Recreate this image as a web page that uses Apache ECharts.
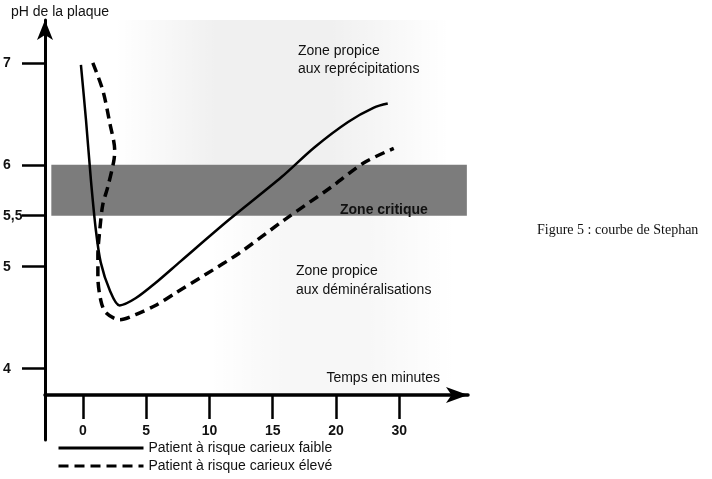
<!DOCTYPE html>
<html><head><meta charset="utf-8">
<script src="https://cdn.jsdelivr.net/npm/echarts@6/dist/echarts.min.js"></script>
<style>html,body{margin:0;padding:0;background:#fff}#c{width:712px;height:479px}</style>
</head><body><div id="c"></div>
<script>
// Time axis ticks (minutes) and their labels — the drawn axis spaces them evenly
const tickMinutes = [0, 5, 10, 15, 20, 30];
const tickLabels = ['0', '5', '10', '15', '20', '30'];
// pH ticks
const phTicks = [4, 5, 5.5, 6, 7];
// Critical zone (pH range)
const criticalZone = [5.5, 6];
// Low caries-risk patient (solid)
const lowRiskMin = [-0.16, 0.24, 0.63, 1.02, 1.41, 2.12, 2.90, 4.16, 5.73, 7.69, 11.54, 15.70, 18.29, 21.92, 26.0, 28.19];
const lowRiskPH  = [6.98, 6.44, 5.85, 5.36, 5.04, 4.77, 4.62, 4.69, 4.84, 5.05, 5.46, 5.88, 6.17, 6.42, 6.56, 6.60];
// High caries-risk patient (dashed)
const highRiskMin = [0.78, 1.57, 2.12, 2.51, 2.43, 1.96, 1.57, 1.33, 1.18, 1.18, 1.41, 1.81, 2.90, 4.16, 5.73, 7.30, 9.65, 12.32, 15.93, 19.62, 24.43, 29.14];
const highRiskPH  = [7.00, 6.73, 6.41, 6.14, 6.03, 5.78, 5.61, 5.36, 5.11, 4.90, 4.67, 4.55, 4.48, 4.53, 4.62, 4.74, 4.92, 5.13, 5.46, 5.78, 6.02, 6.16];

const seriesNames = ['Patient à risque carieux faible', 'Patient à risque carieux élevé'];

// position of a minute value on the (piecewise evenly spaced) time axis
function toAxis(m) {
  const n = tickMinutes.length;
  for (let i = 0; i < n - 1; i++) {
    if (m <= tickMinutes[i + 1] || i === n - 2) {
      return i + (m - tickMinutes[i]) / (tickMinutes[i + 1] - tickMinutes[i]);
    }
  }
}
const tickPos = tickMinutes.map(toAxis);
const lowData = lowRiskMin.map((m, i) => [toAxis(m), lowRiskPH[i]]);
const highData = highRiskMin.map((m, i) => [toAxis(m), highRiskPH[i]]);

const FONT = 'Liberation Sans, Arial, sans-serif';
const haze = (a) => ({type: 'linear', x: 0, y: 0, x2: 1, y2: 0,
  colorStops: [{offset: 0, color: 'rgba(0,0,0,0)'}, {offset: 0.3, color: 'rgba(0,0,0,' + a + ')'},
               {offset: 0.65, color: 'rgba(0,0,0,' + a + ')'}, {offset: 1, color: 'rgba(0,0,0,0)'}]});

const chart = echarts.init(document.getElementById('c'), null, {renderer: 'canvas'});
chart.setOption({
  animation: false,
  backgroundColor: '#fff',
  title: {
    text: 'Figure 5 : courbe de Stephan',
    left: 532, top: 218,
    textStyle: {fontFamily: 'Liberation Serif, Times New Roman, serif', fontSize: 14, fontWeight: 'normal', color: '#111'}
  },
  legend: {
    orient: 'vertical', left: 57, top: 440, padding: 0,
    itemWidth: 85, itemHeight: 16, itemGap: 2,
    itemStyle: {color: 'rgba(0,0,0,0)', borderColor: 'rgba(0,0,0,0)', borderWidth: 0, opacity: 0},
    lineStyle: {width: 3},
    textStyle: {fontFamily: FONT, fontSize: 14, color: '#111', lineHeight: 16},
    data: seriesNames
  },
  grid: {left: 42, right: 244, top: 20, bottom: 39, containLabel: false},
  xAxis: {
    type: 'value', min: -0.6, max: 6.088, offset: -45,
    name: 'Temps en minutes', nameLocation: 'end', nameGap: -28,
    nameTextStyle: {fontFamily: FONT, fontSize: 14, color: '#111', align: 'right', verticalAlign: 'bottom', padding: [0, 0, 10, 0]},
    axisLine: {show: true, onZero: false, lineStyle: {color: '#000', width: 3.5}, symbol: ['none', 'arrow'], symbolSize: [12, 22]},
    axisTick: {show: true, length: 24, lineStyle: {color: '#000', width: 2.5}, customValues: tickPos},
    axisLabel: {show: true, margin: 29, customValues: tickPos, fontFamily: FONT, fontSize: 14, fontWeight: 'bold', color: '#111',
      formatter: v => { const k = tickPos.findIndex(p => Math.abs(p - v) < 1e-6); return k >= 0 ? tickLabels[k] : ''; }},
    splitLine: {show: false}
  },
  yAxis: {
    type: 'value', min: 3.3, max: 7.42,
    name: 'pH de la plaque', nameLocation: 'end', nameGap: 8,
    nameTextStyle: {fontFamily: FONT, fontSize: 14, color: '#111', align: 'center', verticalAlign: 'middle', padding: [0, 0, 0, 30]},
    axisLine: {show: true, onZero: false, lineStyle: {color: '#000', width: 3}, symbol: ['none', 'arrow'], symbolSize: [12, 20]},
    axisTick: {show: true, length: 23, lineStyle: {color: '#000', width: 2.5}, customValues: phTicks},
    axisLabel: {show: true, margin: 42, align: 'left', customValues: phTicks, fontFamily: FONT, fontSize: 14, fontWeight: 'bold', color: '#111',
      formatter: v => String(v).replace('.', ',')},
    splitLine: {show: false}
  },
  graphic: [
    {type: 'text', left: 298, top: 42, z: 10, style: {text: 'Zone propice\naux reprécipitations', font: '14px ' + FONT, lineHeight: 18, fill: '#111'}},
    {type: 'text', left: 296, top: 262, z: 10, style: {text: 'Zone propice\naux déminéralisations', font: '14px ' + FONT, lineHeight: 19, fill: '#111'}},
    {type: 'text', left: 340, top: 202, z: 10, style: {text: 'Zone critique', font: 'bold 14px ' + FONT, lineHeight: 16, fill: '#111'}}
  ],
  series: [
    {
      name: seriesNames[0], type: 'line', data: lowData, smooth: 0.3, symbol: 'none', showSymbol: false, clip: false, z: 5,
      lineStyle: {color: '#000', width: 2.5, type: 'solid'}, itemStyle: {color: '#000'},
      markArea: {
        silent: true, z: 1,
        data: [
          [{coord: [0.5, 6.0], itemStyle: {color: haze(0.06)}}, {coord: [5.8, 7.42]}],
          [{coord: [2.0, 3.75], itemStyle: {color: haze(0.03)}}, {coord: [5.9, 5.5]}],
          [{coord: [-0.5, criticalZone[0]], itemStyle: {color: '#7c7c7c'}}, {coord: [6.07, criticalZone[1]]}]
        ]
      }
    },
    {
      name: seriesNames[1], type: 'line', data: highData, smooth: 0.3, symbol: 'none', showSymbol: false, clip: false, z: 5,
      lineStyle: {color: '#000', width: 3.5, type: [10, 6]}, itemStyle: {color: '#000'}
    }
  ]
});
</script>
</body></html>
